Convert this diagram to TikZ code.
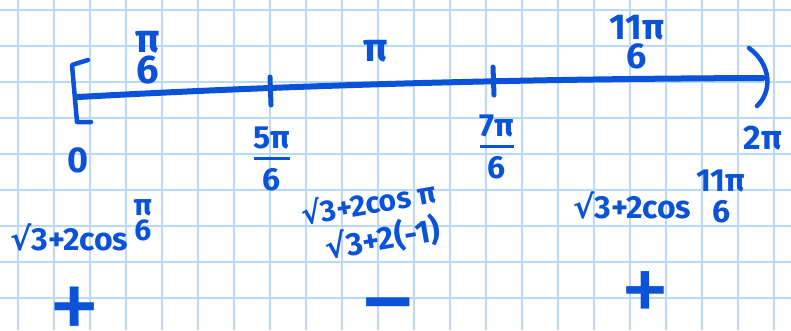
\documentclass[tikz,border=0pt]{standalone}
\usepackage{fontspec}
\setmainfont{Fira Sans}
\newfontfamily\symf{DejaVu Sans}
\definecolor{ink}{HTML}{0A52D8}
\definecolor{gridc}{HTML}{B9D9F7}
\newcommand\fr[2]{\vbox{\offinterlineskip\halign{\hfil##\hfil\cr #1\cr\noalign{\kern8pt\hrule height3pt\kern9pt}#2\cr}}}
\newcommand\stk[3][4pt]{\vbox{\offinterlineskip\halign{\hfil##\hfil\cr #2\cr\noalign{\kern#1}#3\cr}}}
\newcommand\rt{{\symf\bfseries √}}
\newcommand\fs[1]{\fontsize{#1}{#1}\selectfont}
\tikzset{
  gridline/.style={draw=gridc, line width=1.6pt},
  inkline/.style={draw=ink, line cap=round, line join=round},
  lbl/.style={text=ink, font=\fs{30}\bfseries, inner sep=0pt},
  sgn/.style={text=ink, inner sep=0pt, anchor=base}
}
\begin{document}
\begin{tikzpicture}[x=1pt,y=-1pt]
\useasboundingbox (0,0) rectangle (791,330);
\fill[white] (0,0) rectangle (791,330);
\foreach \x in {18,54,...,774} \draw[gridline] (\x,0) -- (\x,330);
\foreach \y in {10,46,...,298} \draw[gridline] (0,\y) -- (791,\y);
% number line
\coordinate (L) at (78,97);
\coordinate (R) at (763,78);
\draw[inkline, line width=6pt] (L) .. controls (260,87) and (480,79) .. (R);
\draw[inkline, line width=4.5pt] (88,60) -- (72,65) -- (77,122) -- (91,122);
\draw[inkline, line width=4.5pt] (749,48) .. controls (772,65) and (772,92) .. (757,106);
\coordinate (t5a) at (270,77); \coordinate (t5b) at (271,105);
\coordinate (t7a) at (493,67); \coordinate (t7b) at (494,95);
\draw[inkline, line width=5pt] (t5a) -- (t5b);
\draw[inkline, line width=5pt] (t7a) -- (t7b);
% labels
\node[lbl, font=\fs{40}\bfseries] (pi6) at (148,58) {\stk[3pt]{π}{6}};
\node[lbl, font=\fs{40}\bfseries] (pi) at (376,51) {π};
\node[lbl, font=\fs{36}\bfseries] (p11) at (637,42) {\stk[4pt]{11π}{6}};
\node[lbl, font=\fs{32}\bfseries] (p5) at (272,159) {\fr{5π}{6}};
\node[lbl, font=\fs{32}\bfseries] (p7) at (497,147) {\fr{7π}{6}};
\node[lbl, font=\fs{36}\bfseries] (zero) at (78,160) {0};
\node[lbl, font=\fs{34}\bfseries] (twopi) at (763,138) {2π};
% expressions
\node[lbl, font=\fs{32}\bfseries, anchor=base west] (f1) at (10,250) {\rt3+2cos\,\raisebox{10pt}{\fs{30}\stk[3pt]{π}{6}}};
\node[lbl, anchor=base west, rotate=10] (f2) at (303,226) {\rt3+2cos π};
\node[lbl, font=\fs{32}\bfseries, anchor=base west, rotate=10] (f3) at (327,260) {\rt3+2(-1)};
\node[lbl, font=\fs{32}\bfseries, anchor=base west] (f4) at (573,218) {\rt3+2cos\,\raisebox{-4pt}{\fs{32}\stk[8pt]{11π}{6}}};
% signs
\node[sgn, font=\fs{105}\mdseries] (s1) at (75,341) {+};
\node[sgn, font=\fs{115}\mdseries] (s2) at (388,340) {−};
\node[sgn, font=\fs{100}\mdseries] (s3) at (645,323) {+};
\end{tikzpicture}
\end{document}
